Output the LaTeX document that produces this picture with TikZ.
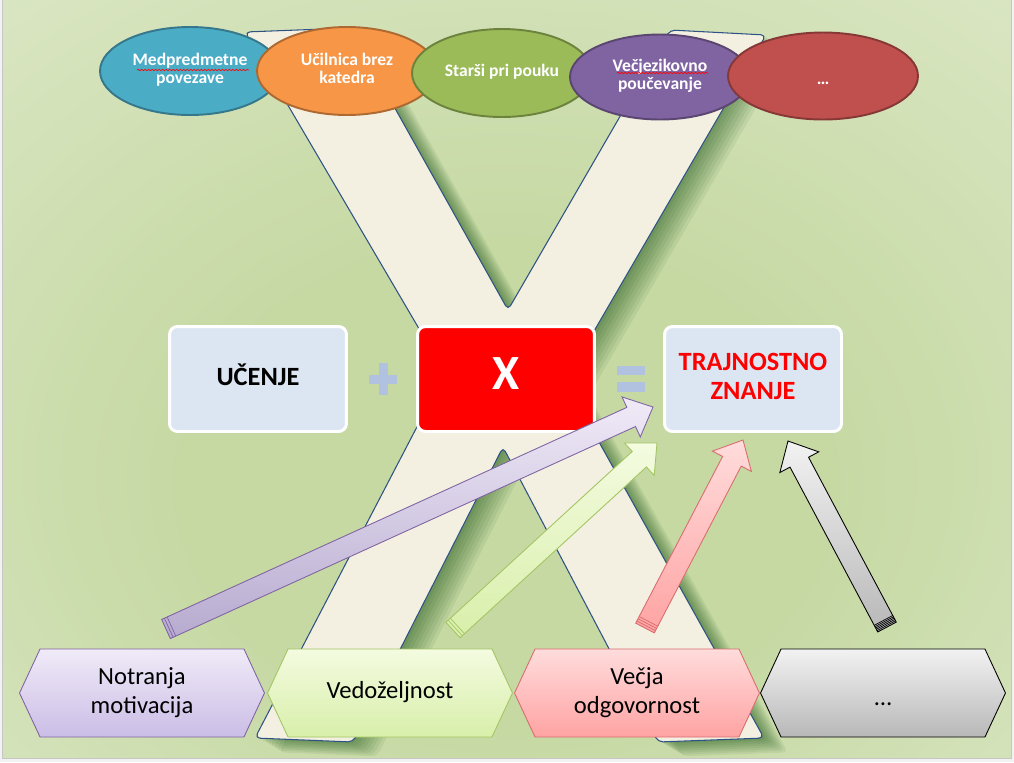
\documentclass[tikz,border=0pt]{standalone}
\usepackage{fontspec}
\setmainfont{Carlito}
\usetikzlibrary{shapes.geometric, shapes.symbols, calc, decorations.pathmorphing}

\definecolor{pagegray}{HTML}{F2F2F2}
\definecolor{bgin}{HTML}{C6D9A3}
\definecolor{bgout}{HTML}{EBF1DF}
\definecolor{cream}{HTML}{F3F0E2}
\definecolor{xline}{HTML}{2E5283}
\definecolor{ebl}{HTML}{4BACC6}
\definecolor{eor}{HTML}{F79646}
\definecolor{egr}{HTML}{9BBB59}
\definecolor{epu}{HTML}{8064A2}
\definecolor{ere}{HTML}{C0504D}
\definecolor{boxfill}{HTML}{DCE6F2}
\definecolor{opsign}{HTML}{B0C2DF}
\definecolor{hpu1}{HTML}{F0EBF8}
\definecolor{hpu2}{HTML}{CBBDE6}
\definecolor{hgr1}{HTML}{F4FBE0}
\definecolor{hgr2}{HTML}{D8EFAA}
\definecolor{hre1}{HTML}{FFDCDC}
\definecolor{hre2}{HTML}{FFA3A3}
\definecolor{hgy1}{HTML}{F2F2F2}
\definecolor{hgy2}{HTML}{B8B8B8}
\definecolor{lgr}{HTML}{A3C564}
\definecolor{lre}{HTML}{D96C6C}

\pgfdeclareradialshading{slidebg}{\pgfpoint{0bp}{-10bp}}{color(0bp)=(bgin); color(16bp)=(bgin); color(58bp)=(bgout)}

\tikzset{
  bubble/.style={ellipse, draw=#1!70!black, fill=#1, line width=1.1pt,
    minimum width=3.6cm, minimum height=1.76cm, inner sep=0pt, align=center,
    text=white, font=\bfseries\fontsize{10}{10.5}\selectfont},
  panel/.style={rectangle, rounded corners=0.16cm, draw=white, line width=1.7pt,
    minimum width=3.54cm, minimum height=2.1cm, align=center,
    font=\bfseries\fontsize{15}{16.5}\selectfont},
  hexa/.style={signal, signal to=east and west, signal pointer angle=130,
    draw=#1, line width=0.5pt, minimum width=4.9cm, minimum height=1.76cm,
    inner sep=0pt, align=center, font=\fontsize{14}{16.5}\selectfont},
  spell/.style={red, line width=0.4pt, decorate,
    decoration={snake, amplitude=0.35pt, segment length=2pt}}
}

% outline of the big X (pixel units)
\newcommand{\xpath}{(245,32) -- (350,28) -- (508,310) -- (670,30) -- (766,35)
  -- (565,381) -- (764,738) -- (658,742) -- (503,447) -- (353,742)
  -- (255,738) -- (445,373) -- cycle}

% block arrow: tail, tip, fill, line colour, tail stripes
\newcommand{\blockarrow}[5]{%
  \coordinate (#1-hb) at ($(#2)!0.48cm!(#1)$);
  \draw[#3, draw=#4, line width=0.5pt] ($(#1)!0.21cm!90:(#2)$)
    -- ($(#1-hb)!0.21cm!-90:(#1)$) -- ($(#1-hb)!0.44cm!-90:(#1)$) -- (#2)
    -- ($(#1-hb)!0.44cm!90:(#1)$) -- ($(#1-hb)!0.21cm!90:(#1)$)
    -- ($(#1)!0.21cm!-90:(#2)$) -- cycle;
  \foreach \k in {#5}
    \draw[#4, line width=0.4pt] ($(#1)!\k!(#2)!0.21cm!90:(#2)$)
      -- ($(#1)!\k!(#2)!0.21cm!-90:(#2)$);
}

\begin{document}
\begin{tikzpicture}[x=0.02cm, y=-0.02cm]
\useasboundingbox (0,0) rectangle (1014,762);
\fill[pagegray] (0,0) rectangle (1014,762);
\shadedraw[shading=slidebg, draw=gray!45] (2,-5) rectangle (1011,758);

% X with its shadow
\foreach \d in {3,6,...,24}
  \fill[black!75!green, opacity=0.065, rounded corners=0.1cm, shift={(\d,0.6*\d)}] \xpath;
\filldraw[fill=cream, draw=xline, line width=0.6pt, rounded corners=0.1cm] \xpath;

% approaches
\node[bubble=ebl] (e1) at (190,71) {Medpredmetne\strut\\povezave\strut};
\node[bubble=eor] (e2) at (347,71) {Učilnica brez\strut\\katedra\strut};
\node[bubble=egr] (e3) at (502,73) {Starši pri pouku\strut};
\node[bubble=epu, minimum height=1.7cm] (e4) at (660,77) {Večjezikovno\strut\\poučevanje\strut};
\node[bubble=ere, minimum width=3.8cm, minimum height=1.74cm] (e5) at (823,76) {\raisebox{-2.5pt}{…}\strut};
\draw[spell] (137,70) -- (249,70);
\draw[spell] (617,73) -- (708,73);

% the equation
\node[panel, fill=boxfill] (ucenje) at (258,379) {UČENJE\strut};
\node[panel, fill=red, text=white, font=\bfseries\fontsize{28}{30}\selectfont] (x) at (506,379) {X\strut};
\node[panel, fill=boxfill, text=red] (znanje) at (753,379) {TRAJNOSTNO\strut\\ZNANJE\strut};
\fill[opsign] (369,375) rectangle (397,384);
\fill[opsign] (379,363) rectangle (388,395);
\fill[opsign] (617,366) rectangle (645,375);
\fill[opsign] (617,382) rectangle (645,392);

% arrows
\coordinate (m-tail) at (166,629);
\coordinate (m-tip) at (653,407);
\coordinate (v-tail) at (453,630);
\coordinate (v-tip) at (657,443);
\coordinate (o-tail) at (645,628);
\coordinate (o-tip) at (743,440);
\coordinate (d-tail) at (887,627);
\coordinate (d-tip) at (788,441);
\blockarrow{m-tail}{m-tip}{top color=hpu1, bottom color=hpu2!90!black}{epu}{0.06cm,0.12cm}
\blockarrow{v-tail}{v-tip}{top color=hgr1, bottom color=hgr2}{lgr}{0.06cm,0.12cm}
\blockarrow{o-tail}{o-tip}{top color=hre1, bottom color=hre2}{lre}{0.05cm,0.1cm,0.15cm}
\blockarrow{d-tail}{d-tip}{top color=hgy1, bottom color=hgy2}{black}{0.03cm,0.06cm,0.09cm,0.12cm,0.15cm}

% qualities
\node[hexa=epu, top color=hpu1, bottom color=hpu2] (motiv) at (142,693) {Notranja\strut\\motivacija\strut};
\node[hexa=lgr, top color=hgr1, bottom color=hgr2] (vedo) at (390,693) {Vedoželjnost\strut};
\node[hexa=lre, top color=hre1, bottom color=hre2] (odgo) at (637,693) {Večja\strut\\odgovornost\strut};
\node[hexa=black, top color=hgy1, bottom color=hgy2] (more) at (883,693) {\raisebox{-4pt}{…}\strut};
\end{tikzpicture}
\end{document}
